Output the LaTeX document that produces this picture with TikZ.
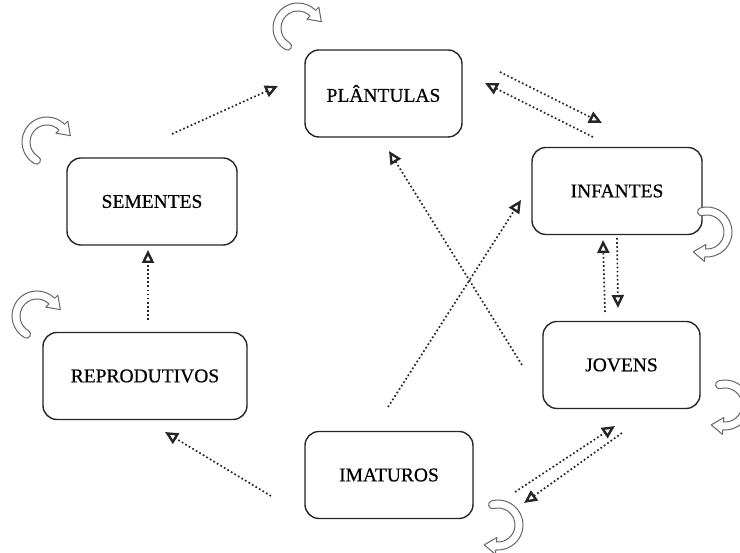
\documentclass[tikz,border=0pt]{standalone}
\usepackage{fontspec}
\setmainfont{Liberation Serif}
\newfontfamily\boxfont[FakeBold=0.5]{Liberation Serif}
\usetikzlibrary{arrows.meta,calc}
\tikzset{
  stage/.style={draw=black!85, line width=1.4pt, rounded corners=14pt, fill=white,
    minimum height=87pt, inner sep=0pt, font=\boxfont\fontsize{19.5}{22}\selectfont},
  arr/.style={draw=black!85, line width=1.7pt, dash pattern=on 1.7pt off 2.4pt,
    -{Triangle[open, length=13pt, width=12pt, line width=2.4pt]}},
  loopline/.style={draw=black!60, line width=1pt, fill=white, line join=round},
  pics/selfloop/.style n args={3}{code={
    \draw[loopline] (#1:#3+4) arc[start angle=#1, end angle=#2, radius=#3+4]
      -- (#2:#3+8.5) -- ($(#2:#3)+(#2-90:12)$) -- (#2:#3-8.5) -- (#2:#3-4)
      arc[start angle=#2, end angle=#1, radius=#3-4]
      arc[start angle=#1+180, end angle=#1, radius=4] -- cycle;
  }}
}
\begin{document}
\begin{tikzpicture}[x=1pt,y=1pt]
\useasboundingbox (0,0) rectangle (740,553);
% stages
\node[stage, minimum width=157pt] (PL) at (383.5,459.5) {PLÂNTULAS};
\node[stage, minimum width=170pt] (SE) at (152,351.5) {SEMENTES};
\node[stage, minimum width=170pt] (IN) at (617,362) {INFANTES};
\node[stage, minimum width=157pt] (JO) at (621.5,188) {JOVENS};
\node[stage, minimum width=204pt] (RE) at (145,177) {REPRODUTIVOS};
\node[stage, minimum width=168pt] (IM) at (389,78) {IMATUROS};
% connector ends
\coordinate (seA) at (172,419); \coordinate (plA) at (278,467);
\coordinate (plB) at (500,481); \coordinate (inB) at (602,430);
\coordinate (inC) at (593,416); \coordinate (plC) at (485,470);
\coordinate (joD) at (605,241); \coordinate (inD) at (603,313);
\coordinate (inE) at (617,315); \coordinate (joE) at (618,245);
\coordinate (joF) at (522,188); \coordinate (plF) at (389,402);
\coordinate (imG) at (388,146); \coordinate (inG) at (521,353);
\coordinate (imH) at (515,61);  \coordinate (joH) at (615,127);
\coordinate (joI) at (622,120); \coordinate (imI) at (524,50);
\coordinate (imJ) at (271,57);  \coordinate (reJ) at (165,121);
\coordinate (reK) at (148,233); \coordinate (seK) at (148,303);
% connectors
\draw[arr] (seA) -- (plA);
\draw[arr] (plB) -- (inB);
\draw[arr] (inC) -- (plC);
\draw[arr] (joD) -- (inD);
\draw[arr] (inE) -- (joE);
\draw[arr] (joF) -- (plF);
\draw[arr] (imG) -- (inG);
\draw[arr] (imH) -- (joH);
\draw[arr] (joI) -- (imI);
\draw[arr] (imJ) -- (reJ);
\draw[arr] (reK) -- (seK);
% self loops
\pic at (298,525) {selfloop={240}{45}{21}};
\pic at (47,411) {selfloop={240}{45}{21}};
\pic at (37,237) {selfloop={240}{45}{21}};
\pic at (707,321) {selfloop={105}{-95}{21}};
\pic at (725,148) {selfloop={105}{-95}{21}};
\pic at (498,28) {selfloop={105}{-95}{21}};
\end{tikzpicture}
\end{document}
